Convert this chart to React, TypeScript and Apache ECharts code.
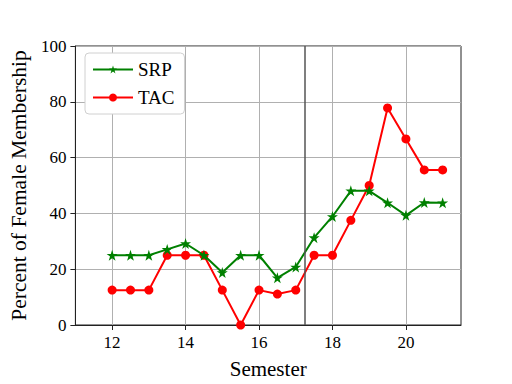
import React, { useEffect, useRef } from "react";
import * as echarts from "echarts";

const semesters = [12, 12.5, 13, 13.5, 14, 14.5, 15, 15.5, 16, 16.5, 17, 17.5, 18, 18.5, 19, 19.5, 20, 20.5, 21];
const srp = [25, 25, 25, 27.1, 29.2, 25, 18.8, 25, 25, 16.9, 20.8, 31.3, 38.9, 48.1, 48.1, 43.8, 39.3, 43.9, 43.8];
const tac = [12.5, 12.5, 12.5, 25, 25, 25, 12.5, 0, 12.5, 11.1, 12.5, 25, 25, 37.5, 50, 77.8, 66.7, 55.6, 55.6];
const xTicks = [12, 14, 16, 18, 20];
const vLine = 17.25;

const serif = "'Liberation Serif', 'DejaVu Serif', serif";

export default function App() {
  const ref = useRef<HTMLDivElement>(null);
  useEffect(() => {
    const chart = echarts.init(ref.current!, null, { renderer: "svg" });
    chart.setOption({
      animation: false,
      backgroundColor: "#fff",
      textStyle: { fontFamily: serif },
      grid: { left: 75, right: 51, top: 46, bottom: 58, show: true, borderColor: "#222", borderWidth: 1, backgroundColor: "transparent" },
      legend: {
        left: 85, top: 53, orient: "vertical",
        backgroundColor: "#fff", borderColor: "#d0d0d0", borderWidth: 1, borderRadius: 4,
        padding: [7, 10, 7, 7], itemGap: 9, itemWidth: 40, itemHeight: 10,
        textStyle: { fontFamily: serif, fontSize: 19, color: "#000" },
        data: ["SRP", "TAC"],
      },
      xAxis: {
        type: "value", min: 11, max: 21.5,
        name: "Semester", nameLocation: "middle", nameGap: 33,
        nameTextStyle: { fontFamily: serif, fontSize: 21, color: "#000" },
        axisLine: { show: true, onZero: false, lineStyle: { color: "#222" } },
        axisTick: { show: true, inside: false, length: 5, customValues: xTicks, lineStyle: { color: "#222" } },
        axisLabel: { customValues: xTicks, fontFamily: serif, fontSize: 17, color: "#000", margin: 9 },
        splitLine: { show: true, lineStyle: { color: "#b0b0b0", width: 1 } },
      },
      yAxis: {
        type: "value", min: 0, max: 100, interval: 20,
        name: "Percent of Female Membership", nameLocation: "middle", nameGap: 41,
        nameTextStyle: { fontFamily: serif, fontSize: 21.5, color: "#000" },
        axisLine: { show: true, lineStyle: { color: "#222" } },
        axisTick: { show: true, inside: false, length: 5, lineStyle: { color: "#222" } },
        axisLabel: { fontFamily: serif, fontSize: 17, color: "#000", margin: 9 },
        splitLine: { show: true, lineStyle: { color: "#b0b0b0", width: 1 } },
      },
      series: [
        {
          name: "SRP", type: "line",
          data: semesters.map((x, i) => [x, srp[i]]),
          symbol: "path://M50,0 L61.8,35.5 L100,35.5 L69.1,57.5 L80.9,93.5 L50,71.5 L19.1,93.5 L30.9,57.5 L0,35.5 L38.2,35.5 Z",
          symbolSize: 11, showSymbol: true,
          lineStyle: { color: "#008000", width: 2 },
          itemStyle: { color: "#008000" },
          markLine: {
            silent: true, symbol: "none", label: { show: false },
            lineStyle: { color: "#555", width: 1.5, type: "solid" },
            data: [{ xAxis: vLine }],
          },
          z: 3,
        },
        {
          name: "TAC", type: "line",
          data: semesters.map((x, i) => [x, tac[i]]),
          symbol: "circle", symbolSize: 9, showSymbol: true,
          lineStyle: { color: "#ff0000", width: 2 },
          itemStyle: { color: "#ff0000" },
          z: 2,
        },
      ],
    });
    return () => chart.dispose();
  }, []);
  return <div ref={ref} style={{ width: 512, height: 384, position: "absolute", left: 0, top: 0 }} />;
}
